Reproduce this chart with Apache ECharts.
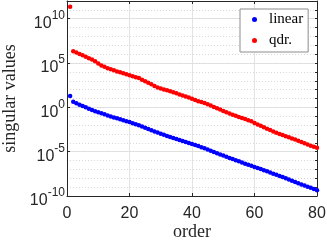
<!DOCTYPE html>
<html>
<head>
<meta charset="utf-8">
<script src="https://cdn.jsdelivr.net/npm/echarts@6/dist/echarts.min.js"></script>
<style>
  html, body { margin: 0; padding: 0; background: #fff; }
  #chart { width: 327px; height: 240px; }
</style>
</head>
<body>
<div id="chart"></div>
<script>
// log10 of the singular values, order 1..80
const linearLog = [
  1.27, 0.64, 0.46, 0.30, 0.15, 0.00, -0.15, -0.30, -0.43, -0.55,
  -0.67, -0.79, -0.91, -1.02, -1.13, -1.24, -1.35, -1.45, -1.56, -1.66,
  -1.78, -1.90, -2.03, -2.17, -2.31, -2.45, -2.58, -2.71, -2.84, -2.97,
  -3.10, -3.22, -3.34, -3.46, -3.57, -3.68, -3.79, -3.90, -4.01, -4.12,
  -4.24, -4.36, -4.49, -4.62, -4.75, -4.90, -5.04, -5.18, -5.31, -5.44,
  -5.57, -5.70, -5.83, -5.96, -6.09, -6.22, -6.35, -6.48, -6.60, -6.72,
  -6.84, -6.96, -7.09, -7.22, -7.35, -7.48, -7.61, -7.74, -7.87, -8.00,
  -8.13, -8.27, -8.41, -8.55, -8.69, -8.82, -8.95, -9.08, -9.22, -9.36
];
const qdrLog = [
  11.35, 6.33, 6.18, 6.03, 5.88, 5.72, 5.55, 5.39, 5.20, 4.95,
  4.72, 4.57, 4.42, 4.30, 4.18, 4.05, 3.95, 3.85, 3.75, 3.62,
  3.50, 3.40, 3.30, 3.12, 2.95, 2.78, 2.60, 2.42, 2.25, 2.12,
  2.02, 1.93, 1.82, 1.70, 1.58, 1.46, 1.35, 1.23, 1.10, 0.96,
  0.82, 0.70, 0.60, 0.50, 0.36, 0.20, 0.04, -0.10, -0.25, -0.40,
  -0.55, -0.70, -0.83, -0.96, -1.08, -1.20, -1.31, -1.44, -1.58, -1.75,
  -1.92, -2.08, -2.24, -2.40, -2.56, -2.72, -2.87, -3.00, -3.13, -3.26,
  -3.38, -3.50, -3.62, -3.76, -3.92, -4.06, -4.20, -4.33, -4.45, -4.56
];
const xTicks = [0, 20, 40, 60, 80];
const yTickExps = [-10, -5, 0, 5, 10];
const yMaxExp = 12;

const orders = linearLog.map((_, i) => i + 1);
const toPoints = (logs) => logs.map((e, i) => [orders[i], e]);

const ink = '#262626';
const sans = 'Liberation Sans, Arial, sans-serif';
const serif = 'Liberation Serif, DejaVu Serif, serif';

const chart = echarts.init(document.getElementById('chart'), null, { renderer: 'canvas' });
chart.setOption({
  animation: false,
  backgroundColor: '#fff',
  grid: { left: 67, right: 10, top: 1, bottom: 44, outerBoundsMode: 'none' },
  legend: {
    left: 240, top: 9,
    orient: 'vertical',
    icon: 'circle',
    itemWidth: 5, itemHeight: 5, itemGap: 6,
    padding: [3, 5, 4, 12],
    borderColor: '#8c8c8c', borderWidth: 1,
    backgroundColor: '#fff',
    textStyle: { fontFamily: serif, fontSize: 15, color: '#000', padding: [0, 0, 0, 7], lineHeight: 14 },
    data: ['linear', 'qdr.']
  },
  xAxis: [{
    type: 'value', min: xTicks[0], max: xTicks[xTicks.length - 1], interval: 20,
    name: 'order', nameLocation: 'middle', nameGap: 27, nameMoveOverlap: false,
    nameTextStyle: { fontFamily: serif, fontSize: 18, color: ink },
    axisLine: { onZero: false, lineStyle: { color: ink } },
    axisTick: { inside: true, length: 3, lineStyle: { color: ink } },
    axisLabel: { fontFamily: sans, fontSize: 16, color: ink, margin: 10 },
    splitLine: { show: true, lineStyle: { color: '#e3e3e3' } }
  }, {
    type: 'value', position: 'top', min: 0, max: 80, interval: 20,
    axisLine: { show: true, onZero: false, lineStyle: { color: ink } },
    axisTick: { show: true, inside: true, length: 3, lineStyle: { color: ink } },
    axisLabel: { show: false }, splitLine: { show: false }
  }],
  yAxis: [{
    type: 'value',
    min: yTickExps[0], max: yMaxExp, interval: 5,
    name: 'singular values', nameLocation: 'middle', nameGap: 48, nameMoveOverlap: false,
    nameTextStyle: { fontFamily: serif, fontSize: 18, color: ink },
    axisLine: { show: true, onZero: false, lineStyle: { color: ink } },
    axisTick: { show: true, inside: true, length: 3, lineStyle: { color: ink } },
    axisLabel: {
      showMaxLabel: false, margin: 2,
      formatter: (v) => yTickExps.includes(v) ? '{b|10}{s|' + v + '}' : '',
      rich: {
        b: { fontFamily: sans, fontSize: 16, color: ink, padding: [10, 0, 0, 0] },
        s: { fontFamily: sans, fontSize: 12, color: ink, padding: [0, 0, 6, 0] }
      }
    },
    splitLine: { show: true, lineStyle: { color: '#e3e3e3' } }
  }, {
    type: 'value', position: 'right',
    min: yTickExps[0], max: yMaxExp, interval: 1,
    axisLine: { show: true, onZero: false, lineStyle: { color: ink } },
    axisTick: { show: true, inside: true, length: 2, lineStyle: { color: ink } },
    axisLabel: { show: false },
    splitLine: { show: true, lineStyle: { color: '#d8d8d8', type: [1, 2] } }
  }],
  series: [{
    name: 'linear', type: 'scatter', xAxisIndex: 0, yAxisIndex: 0,
    symbolSize: 4.5, itemStyle: { color: '#0000ff', opacity: 1 },
    data: toPoints(linearLog), z: 3
  }, {
    name: 'qdr.', type: 'scatter', xAxisIndex: 0, yAxisIndex: 0,
    symbolSize: 4.5, itemStyle: { color: '#ff0000', opacity: 1 },
    data: toPoints(qdrLog), z: 3
  }]
});
</script>
</body>
</html>
